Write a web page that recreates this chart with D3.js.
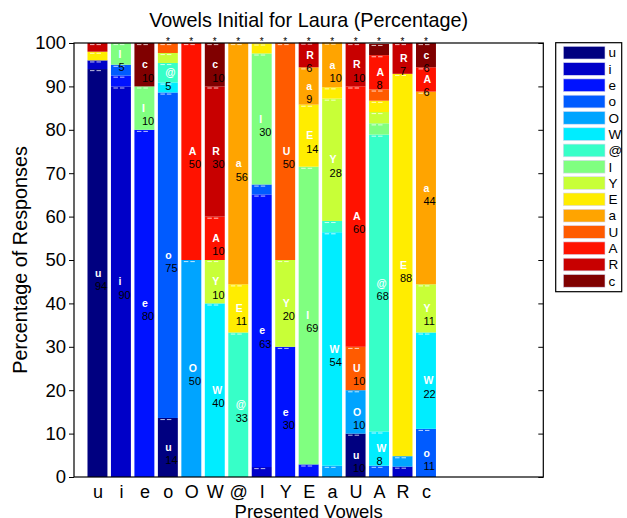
<!DOCTYPE html>
<html><head><meta charset="utf-8">
<script src="https://cdn.jsdelivr.net/npm/d3@7"></script>
<style>body{margin:0;background:#fff}text{font-family:Arial,"Liberation Sans",Helvetica,sans-serif}</style>
</head><body><svg id="c" width="627" height="518"></svg>
<script>
// Presented vowels (x categories) and response vowels (stack series, legend order)
const categories = ["u","i","e","o","O","W","@","I","Y","E","a","U","A","R","c"];
const responses  = ["u","i","e","o","O","W","@","I","Y","E","a","U","A","R","c"];
// Percentage of responses per response vowel, one value per presented vowel
const s_u = [94,0,0,13.6,0,0,0,0,0,0,0,10,0,0,0];
const s_i = [2,90,0,0,0,0,0,2.3,0,0,0,0,0,2.4,0];
const s_e = [0,2.5,80,0,0,0,0,62.8,30,2.9,0,0,0,0,0];
const s_o = [0,2.5,0,75,0,0,0,2.3,0,0,0,0,2.6,0,11.1];
const s_O = [0,0,0,0,50,0,0,0,0,0,2.6,10,0,2.4,0];
const s_W = [0,0,0,2.3,0,40,0,0,0,0,53.8,0,7.9,0,22.2];
const s_at = [0,0,0,4.5,0,0,33.3,0,0,0,2.6,0,68.4,0,0];
const s_I = [0,5,10,0,0,0,0,30.2,0,68.6,0,0,2.6,0,0];
const s_Y = [0,0,0,2.3,0,10,0,0,20,0,28.2,0,2.6,0,11.1];
const s_E = [2,0,0,0,0,0,11.1,2.3,0,14.3,2.6,0,2.6,88.1,0];
const s_a = [0,0,0,0,0,0,55.6,0,0,8.6,10.3,0,0,0,44.4];
const s_U = [0,0,0,2.3,0,0,0,0,50,0,0,10,2.6,0,0];
const s_A = [0,0,0,0,50,10,0,0,0,0,0,60,7.9,0,5.6];
const s_R = [2,0,0,0,0,30,0,0,0,5.7,0,10,0,7.1,0];
const s_c = [0,0,10,0,0,10,0,0,0,0,0,0,2.6,0,5.6];
const series = [s_u,s_i,s_e,s_o,s_O,s_W,s_at,s_I,s_Y,s_E,s_a,s_U,s_A,s_R,s_c];
// significance markers above bars
const significant = [0,0,0,1,1,1,1,1,1,1,1,1,1,1,1];
const yTicks = [0,10,20,30,40,50,60,70,80,90,100];

const svg = d3.select("#c");
const L = 74, R = 543.3, T = 43, B = 477;
const x = d3.scaleLinear().domain([0,20]).range([L,R]);
const y = d3.scaleLinear().domain([0,100]).range([B,T]);
const jet = t => {
  const c = v => Math.max(0, Math.min(1, v));
  return d3.rgb(255*c(1.5-Math.abs(4*t-3)), 255*c(1.5-Math.abs(4*t-2)), 255*c(1.5-Math.abs(4*t-1)));
};
const color = d3.scaleOrdinal().domain(responses).range(responses.map((d,i)=>jet(i/(responses.length-1)).toString()));

// stack
const table = categories.map((c,j) => {
  const row = {cat:c, idx:j+1};
  responses.forEach((r,k) => row[r] = series[k][j]);
  return row;
});
const stacked = d3.stack().keys(responses)(table);
const bw = 0.85;

const g = svg.append("g");
stacked.forEach(layer => {
  const key = layer.key;
  layer.forEach(seg => {
    const v = seg[1]-seg[0];
    if (v <= 0) return;
    const x0 = x(seg.data.idx - bw/2), x1 = x(seg.data.idx + bw/2);
    g.append("rect").attr("x",x0).attr("width",x1-x0)
      .attr("y",y(seg[1])).attr("height",y(seg[0])-y(seg[1]))
      .attr("fill",color(key));
  });
});
// dashed marks at top of each segment
stacked.forEach(layer => {
  layer.forEach(seg => {
    const v = seg[1]-seg[0];
    if (v <= 0) return;
    const cx = x(seg.data.idx);
    const x0 = x(seg.data.idx - bw/2);
    g.append("line").attr("x1",x0+2.5).attr("x2",cx+3.5)
      .attr("y1",y(seg[1])+1.6).attr("y2",y(seg[1])+1.6)
      .attr("stroke","#fff").attr("stroke-opacity",0.75).attr("stroke-width",1)
      .attr("stroke-dasharray","4.5,2");
  });
});
// labels
stacked.forEach(layer => {
  layer.forEach(seg => {
    const v = seg[1]-seg[0];
    if (Math.round(v) < 5) return;
    const cx = x(seg.data.idx) - 2.5;
    const my = y((seg[0]+seg[1])/2);
    g.append("text").attr("x",cx).attr("y",my).attr("dy","0.35em")
      .attr("fill","#fff").attr("font-size",10.5).attr("font-weight","bold").text(layer.key);
    g.append("text").attr("x",cx).attr("y",my+13).attr("dy","0.35em")
      .attr("fill","#000").attr("font-size",11).text(Math.round(v));
  });
});
// stars
categories.forEach((c,j) => {
  if (!significant[j]) return;
  svg.append("text").attr("x",x(j+1)).attr("y",44.5).attr("text-anchor","middle")
    .attr("font-size",10).attr("fill","#000").text("*");
});

// axes box
svg.append("rect").attr("x",L).attr("y",T).attr("width",R-L).attr("height",B-T)
  .attr("fill","none").attr("stroke","#000").attr("stroke-width",1.2);
// y axis left (ticks outward) and right (ticks inward)
const yAxis = d3.axisLeft(y).tickValues(yTicks).tickSize(5).tickPadding(3);
const ya = svg.append("g").attr("transform",`translate(${L},0)`).call(yAxis);
ya.select(".domain").remove();
ya.selectAll("text").attr("font-size",18.5).attr("font-family","Arial, 'Liberation Sans', sans-serif").attr("fill","#000");
const yr = svg.append("g").attr("transform",`translate(${R},0)`).call(d3.axisLeft(y).tickValues(yTicks).tickSize(5).tickFormat(""));
yr.select(".domain").remove();
// x axis labels
const xAxis = d3.axisBottom(x).tickValues(d3.range(1,categories.length+1)).tickSize(0).tickPadding(8)
  .tickFormat(d => categories[d-1]);
const xa = svg.append("g").attr("transform",`translate(0,${B})`).call(xAxis);
xa.select(".domain").remove();
xa.selectAll("text").attr("font-size",18).attr("font-family","Arial, 'Liberation Sans', sans-serif").attr("fill","#000");

// title and axis labels
svg.append("text").attr("x",(L+R)/2).attr("y",26.5).attr("text-anchor","middle")
  .attr("font-size",19.8).text("Vowels Initial for Laura (Percentage)");
svg.append("text").attr("x",(L+R)/2).attr("y",518).attr("text-anchor","middle")
  .attr("font-size",18.5).text("Presented Vowels");
svg.append("text").attr("transform",`translate(27,${(T+B)/2}) rotate(-90)`).attr("text-anchor","middle")
  .attr("font-size",19.8).text("Percentage of Responses");

// legend
const lg = svg.append("g");
lg.append("rect").attr("x",555.7).attr("y",42.7).attr("width",66).attr("height",249)
  .attr("fill","#fff").attr("stroke","#000").attr("stroke-width",1.2);
responses.forEach((r,i) => {
  const yy = 46.3 + i*16.3;
  lg.append("rect").attr("x",563.3).attr("y",yy).attr("width",41.7).attr("height",12.7)
    .attr("fill",color(r)).attr("stroke","#d8d8f0").attr("stroke-width",0.6);
  lg.append("text").attr("x",608.5).attr("y",yy+6.4).attr("dy","0.35em").attr("font-size",13.5).text(r);
});
</script></body></html>
